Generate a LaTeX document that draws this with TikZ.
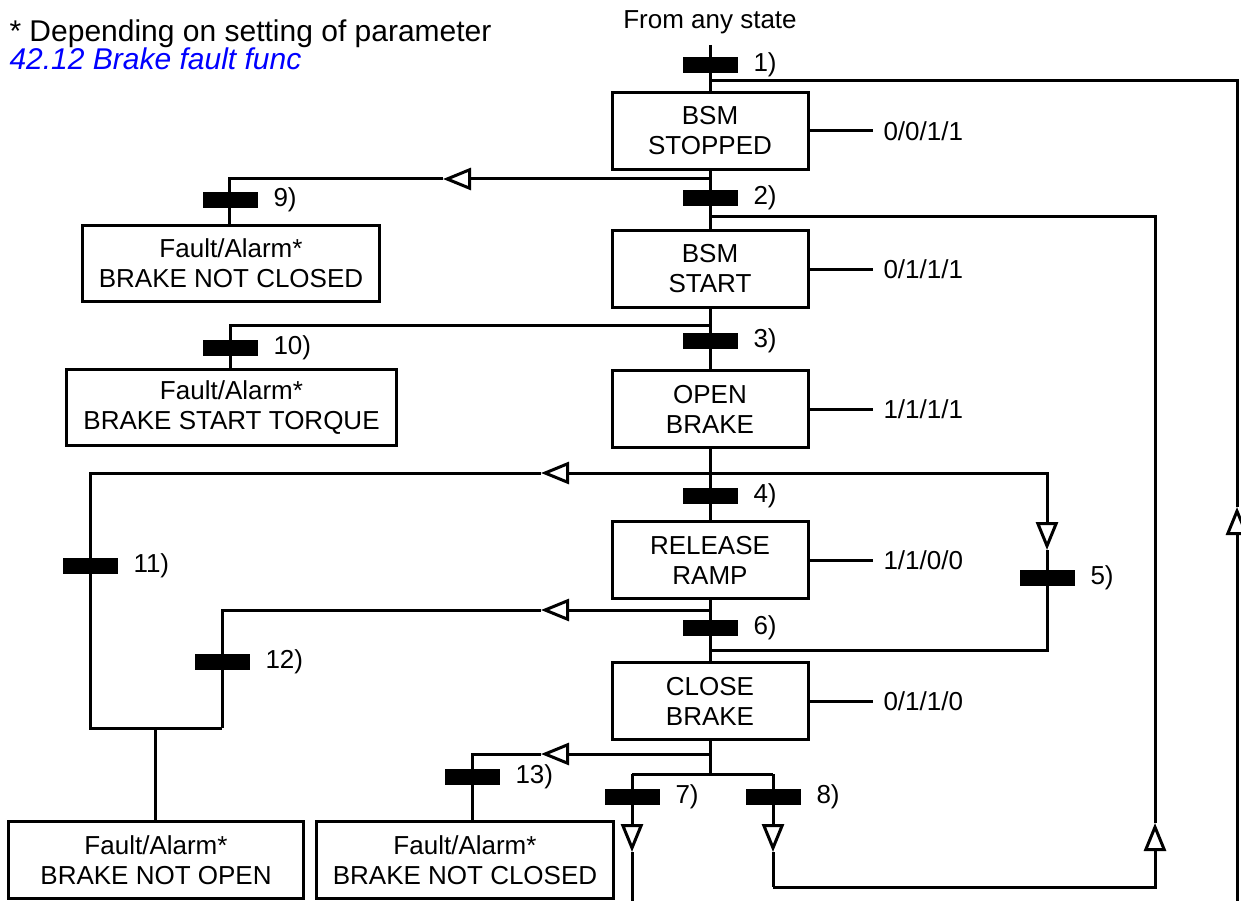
\documentclass[tikz,border=0pt]{standalone}
\usepackage{fontspec}
\setmainfont{Liberation Sans}
\usetikzlibrary{arrows.meta, positioning}
\definecolor{parblue}{HTML}{0000FF}

\begin{document}
\begin{tikzpicture}[x=1pt, y=-1pt, line width=3pt, label distance=13pt,
      state/.style={rectangle, draw, minimum width=196pt, minimum height=77pt,
                    inner sep=0pt, align=center, font=\fontsize{26}{30}\selectfont},
      fbox/.style={state, minimum height=76pt},
      tbar/.style={rectangle, fill=black, minimum width=55pt, minimum height=16pt, inner sep=0pt},
      tlbl/.style={inner sep=0pt, font=\fontsize{26}{30}\selectfont},
      outl/.style={anchor=west, inner xsep=9pt, inner ysep=0pt, font=\fontsize{26}{30}\selectfont},
      oarr/.style={-{Triangle[open, length=28pt, width=22pt, fill=white]}}
    ]
      \useasboundingbox (0,0) rectangle (1241,901);

      % note and entry
      \node[anchor=base west, inner sep=0pt, font=\fontsize{30}{34}\selectfont] (note) at (8,42) {* Depending on setting of parameter};
      \node[anchor=base west, inner sep=0pt, text=parblue, font=\fontsize{30}{34}\selectfont\itshape] (par) at (8,70) {42.12 Brake fault func};
      \node[anchor=base, inner sep=0pt, font=\fontsize{26}{30}\selectfont] (any) at (710,29) {From any state};

      % states
      \node[state] (stopped) at (710,131) {BSM\\STOPPED};
      \node[state] (start) at (710,269) {BSM\\START};
      \node[state] (openbrk) at (710,409) {OPEN\\BRAKE};
      \node[state] (release) at (710,560) {RELEASE\\RAMP};
      \node[state] (closebrk) at (710,701) {CLOSE\\BRAKE};

      \node[outl] (o1) at (873,131) {0/0/1/1};
      \node[outl] (o2) at (873,269) {0/1/1/1};
      \node[outl] (o3) at (873,409) {1/1/1/1};
      \node[outl] (o4) at (873,560) {1/1/0/0};
      \node[outl] (o5) at (873,701) {0/1/1/0};

      % faults
      \node[fbox, minimum width=297pt] (fnc1) at (231,263.5) {Fault/Alarm*\\BRAKE NOT CLOSED};
      \node[fbox, minimum width=330pt] (fstq) at (231.5,407.5) {Fault/Alarm*\\BRAKE START TORQUE};
      \node[fbox, minimum width=295pt, minimum height=77pt] (fno) at (156,860) {Fault/Alarm*\\BRAKE NOT OPEN};
      \node[fbox, minimum width=297pt, minimum height=77pt] (fnc2) at (465,860) {Fault/Alarm*\\BRAKE NOT CLOSED};

      % junctions
      \coordinate (top) at (710,45);
      \coordinate (j1) at (710,81);
      \coordinate (r1t) at (1237,81);
      \coordinate (r1a) at (1237,507);
      \coordinate (r1b) at (1237,901);
      \coordinate (j2) at (710,179);
      \coordinate (a9) at (443,179);
      \coordinate (c9) at (229,179);
      \coordinate (j3) at (710,217);
      \coordinate (r2t) at (1155,217);
      \coordinate (r2a) at (1155,823);
      \coordinate (r2b) at (1155,887);
      \coordinate (j4) at (710,325);
      \coordinate (c10) at (230,325);
      \coordinate (j5) at (710,473);
      \coordinate (a11) at (541,473);
      \coordinate (c11) at (90,473);
      \coordinate (c11b) at (90,728);
      \coordinate (c5) at (1047,473);
      \coordinate (a5) at (1047,550);
      \coordinate (c5b) at (1047,650);
      \coordinate (j6b) at (710,650);
      \coordinate (j6) at (710,610);
      \coordinate (a12) at (541,610);
      \coordinate (c12) at (222,610);
      \coordinate (c12b) at (222,728);
      \coordinate (mno) at (155,728);
      \coordinate (j7) at (710,754);
      \coordinate (a13) at (541,754);
      \coordinate (c13) at (472,754);
      \coordinate (j8) at (710,774);
      \coordinate (c7) at (632,774);
      \coordinate (a7) at (632,852);
      \coordinate (c7b) at (632,901);
      \coordinate (c8) at (773,774);
      \coordinate (a8) at (773,852);
      \coordinate (c8b) at (773,887);

      % spine
      \draw (top) -- (stopped);
      \draw (stopped) -- (start);
      \draw (start) -- (openbrk);
      \draw (openbrk) -- (release);
      \draw (release) -- (closebrk);
      \draw (closebrk) -- (j8);
      \draw (stopped) -- (o1.west);
      \draw (start) -- (o2.west);
      \draw (openbrk) -- (o3.west);
      \draw (release) -- (o4.west);
      \draw (closebrk) -- (o5.west);

      % loops
      \draw (j1) -- (r1t) -- (r1a);
      \draw[oarr] (r1b) -- (r1a);
      \draw[oarr] (c8b) -- (r2b) -- (r2a);
      \draw (r2a) -- (r2t) -- (j3);
      \draw[oarr] (j2) -- (a9);
      \draw (a9) -- (c9) -- (c9 |- fnc1.north);
      \draw (j4) -- (c10) -- (c10 |- fstq.north);
      \draw[oarr] (j5) -- (a11);
      \draw (a11) -- (c11) -- (c11b) -- (c12b);
      \draw[oarr] (j5) -- (c5) -- (a5);
      \draw (a5) -- (c5b) -- (j6b);
      \draw[oarr] (j6) -- (a12);
      \draw (a12) -- (c12) -- (c12b);
      \draw (mno) -- (mno |- fno.north);
      \draw[oarr] (j7) -- (a13);
      \draw (a13) -- (c13) -- (c13 |- fnc2.north);
      \draw (c7) -- (c8);
      \draw[oarr] (c7) -- (a7);
      \draw (a7) -- (c7b);
      \draw[oarr] (c8) -- (a8);
      \draw (a8) -- (c8b);

      % transitions
      \node[tbar, label={[tlbl]right:1)}] (t1) at (710,65) {};
      \node[tbar, label={[tlbl]right:2)}] (t2) at (710,198) {};
      \node[tbar, label={[tlbl]right:3)}] (t3) at (710,341) {};
      \node[tbar, label={[tlbl]right:4)}] (t4) at (710,496) {};
      \node[tbar, label={[tlbl]right:5)}] (t5) at (1047,578) {};
      \node[tbar, label={[tlbl]right:6)}] (t6) at (710,628) {};
      \node[tbar, label={[tlbl]right:7)}] (t7) at (632,797) {};
      \node[tbar, label={[tlbl]right:8)}] (t8) at (773,797) {};
      \node[tbar, label={[tlbl]right:9)}] (t9) at (230,200) {};
      \node[tbar, label={[tlbl]right:10)}] (t10) at (230,348) {};
      \node[tbar, label={[tlbl]right:11)}] (t11) at (90,566) {};
      \node[tbar, label={[tlbl]right:12)}] (t12) at (222,662) {};
      \node[tbar, label={[tlbl]right:13)}] (t13) at (472,777) {};
    \end{tikzpicture}
\end{document}
